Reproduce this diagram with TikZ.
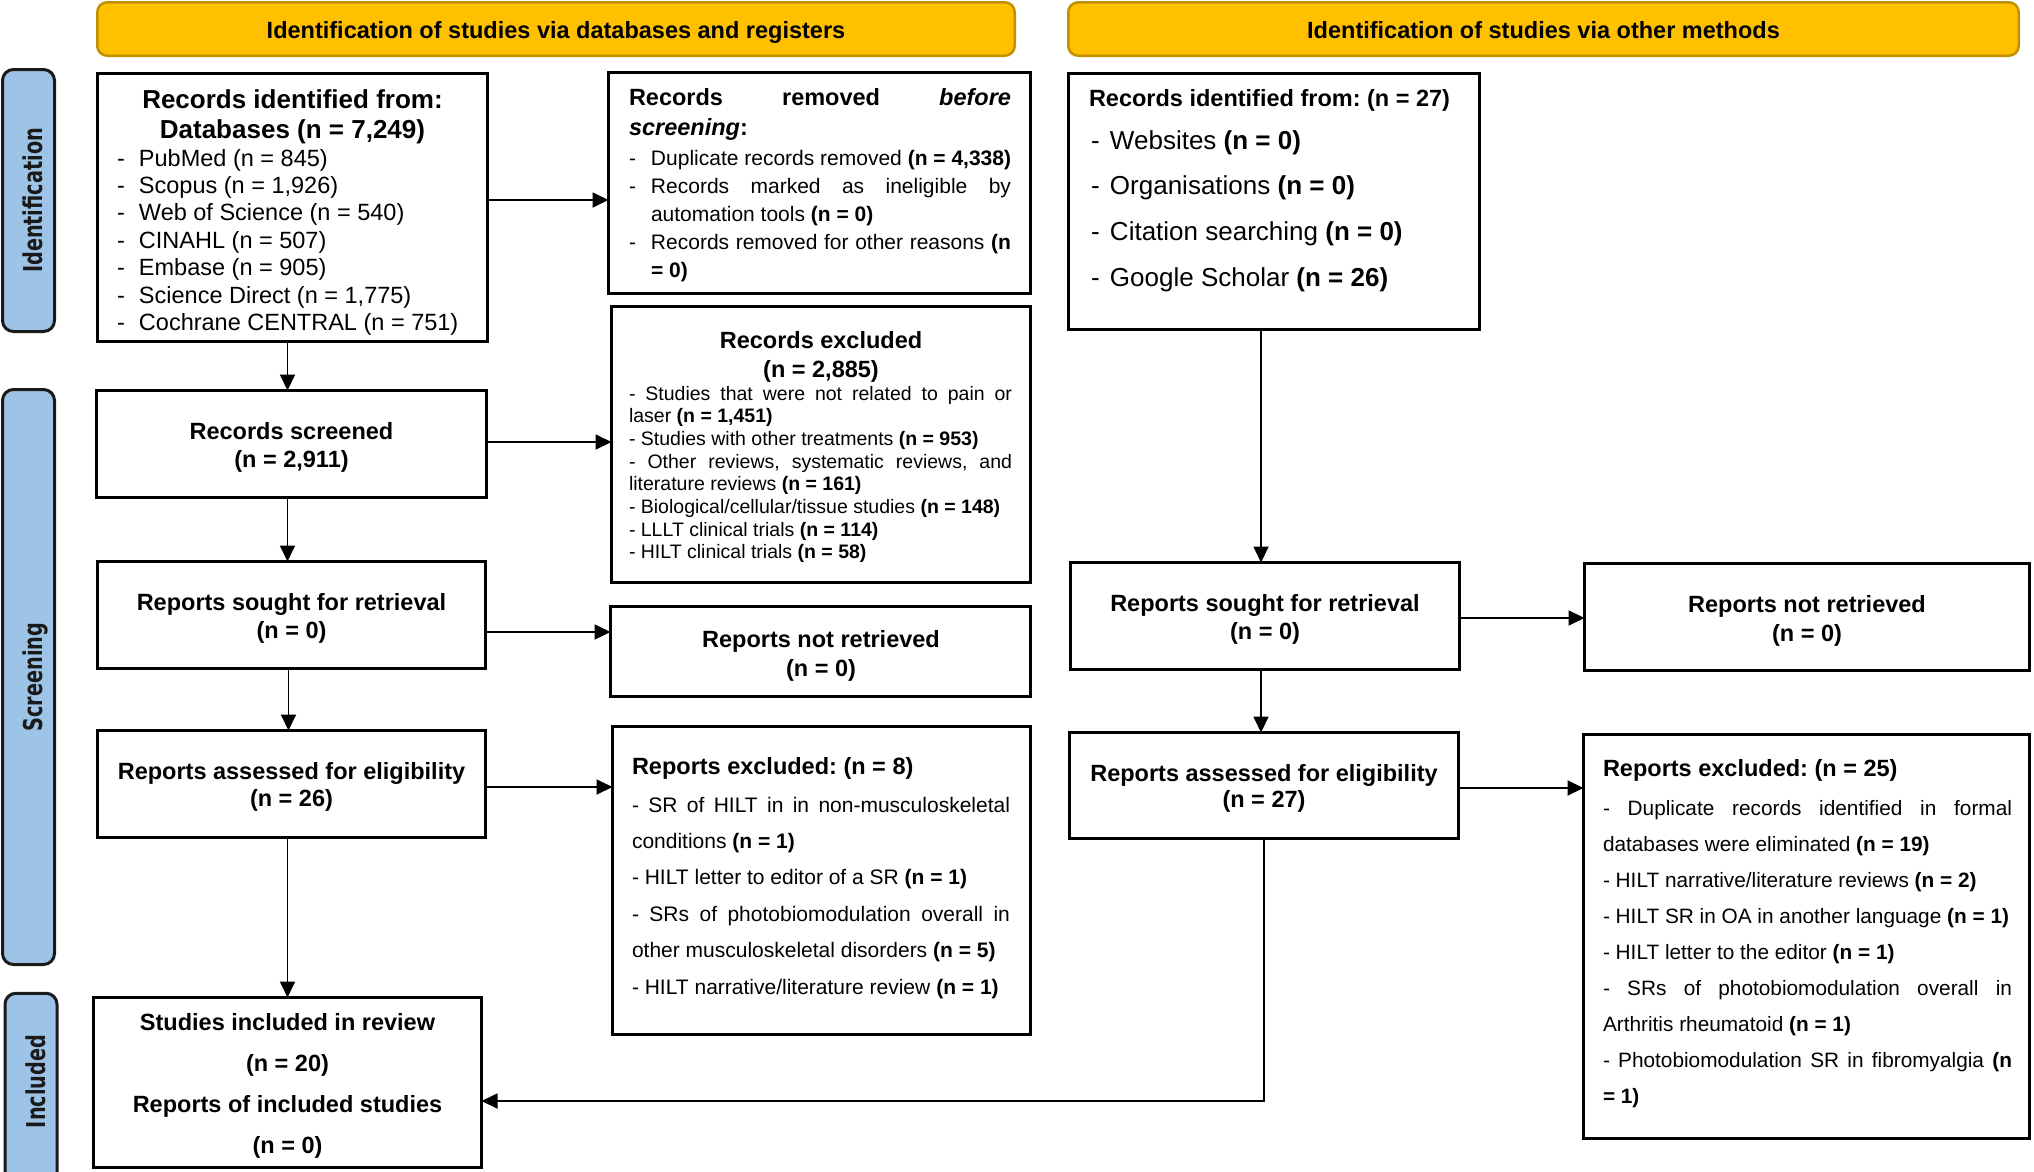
\documentclass[tikz,border=0pt]{standalone}
\usepackage{fontspec}
\usepackage{graphicx}
\setmainfont{Liberation Sans}
\newfontfamily\sidefont{DejaVu Sans}
\usetikzlibrary{arrows.meta}
\definecolor{hdrfill}{HTML}{FFC000}
\definecolor{hdrline}{HTML}{BF9000}
\definecolor{sidefill}{HTML}{9DC3E6}
\definecolor{sideline}{HTML}{1A1A1A}
\newcommand\fs[2]{\fontsize{#1}{#2}\selectfont}
\newcommand\st{\rule{0pt}{22pt}}
\newcommand\idash[1]{\makebox[#1][l]{-}}
\newcommand\bx[5]{\node[box, minimum width={#4-#2-3}, minimum height={#5-#3-3}] (#1) at ({(#2+#4)/2},{(#3+#5)/2}) {};}
\begin{document}
\frenchspacing
\begin{tikzpicture}[x=1pt,y=-1pt,
 box/.style={draw=black, line width=3pt, fill=white, inner sep=0pt, outer sep=0pt},
 hdr/.style={draw=hdrline, fill=hdrfill, line width=2.5pt, rounded corners=10pt, inner sep=0pt, outer sep=0pt},
 side/.style={draw=sideline, fill=sidefill, line width=3pt, rounded corners=11pt, inner sep=0pt, outer sep=0pt},
 sidetxt/.style={rotate=90, anchor=base, inner sep=0pt, font=\sidefont\bfseries\fs{26}{30}, text=sideline},
 txt/.style={inner sep=0pt, outer sep=0pt, anchor=north west, align=left},
 ctxt/.style={inner sep=0pt, outer sep=0pt, anchor=north, align=center, font=\bfseries\fs{23.5}{28}},
 htxt/.style={inner sep=0pt, anchor=base, font=\bfseries\fs{23.5}{28}},
 arr/.style={line width=1.8pt, -{Triangle[length=16pt,width=15pt]}},
]
\useasboundingbox (0,0) rectangle (2034,1171);
\fill[white] (0,0) rectangle (2034,1171);
\begin{scope}
\clip (0,0) rectangle (2034,1171);
% headers
\node[hdr, minimum width=917.5, minimum height=53.5] (hl) at (556,29) {};
\node[hdr, minimum width=950.5, minimum height=53.5] (hr) at (1543.5,29) {};
\node[htxt] (hlt) at (556,38) {Identification of studies via databases and registers};
\node[htxt] (hrt) at (1543.5,38) {Identification of studies via other methods};
% side labels
\node[side, minimum width=52, minimum height=262] (sI) at (28.5,200.5) {};
\node[side, minimum width=52, minimum height=575] (sS) at (28.5,677) {};
\node[side, minimum width=52, minimum height=195] (sN) at (31,1090.75) {};
\node[sidetxt] (sIt) at (42.5,200.5) {\scalebox{0.74}[1]{Identification}};
\node[sidetxt] (sSt) at (42.5,677) {\scalebox{0.74}[1]{Screening}};
\node[sidetxt] (sNt) at (45,1081.5) {\scalebox{0.74}[1]{Included}};
% boxes
\bx{db}{96}{72}{489}{343}
\bx{removed}{607}{71}{1032}{295}
\bx{recexcl}{610}{305}{1032}{584}
\bx{screened}{95}{389}{488}{499}
\bx{soughtL}{96}{560}{487}{670}
\bx{notretL}{609}{605}{1032}{698}
\bx{assessL}{96}{729}{487}{839}
\bx{exclL}{611}{725}{1032}{1036}
\bx{included}{92}{996}{483}{1169}
\bx{dbR}{1067}{72}{1481}{331}
\bx{soughtR}{1069}{561}{1461}{671}
\bx{notretR}{1583}{562}{2031}{672}
\bx{assessR}{1068}{731}{1460}{840}
\bx{exclR}{1582}{733}{2031}{1140}
% texts
\node[ctxt, font=\bfseries\fs{26}{30}] (dbh) at (292.5,86) {\st Records identified from:\\Databases (n = 7,249)};
\node[txt, font=\fs{23.5}{27.4}] (dbi) at (117,144) {\st\idash{22pt}PubMed (n = 845)\\
\idash{22pt}Scopus (n = 1,926)\\
\idash{22pt}Web of Science (n = 540)\\
\idash{22pt}CINAHL (n = 507)\\
\idash{22pt}Embase (n = 905)\\
\idash{22pt}Science Direct (n = 1,775)\\
\idash{22pt}Cochrane CENTRAL (n = 751)};
\node[txt, font=\fs{21}{28}] (remt) at (629,83) {\st\makebox[382pt][s]{\bfseries\fs{23.5}{28}Records removed \itshape before}\\[2pt]
{\bfseries\itshape\fs{23.5}{28}screening}{\bfseries\fs{23.5}{28}:}\\[2pt]
\idash{22pt}Duplicate records removed \textbf{(n = 4,338)}\\
\idash{22pt}\makebox[360pt][s]{Records marked as ineligible by}\\
\hspace*{22pt}automation tools \textbf{(n = 0)}\\
\idash{22pt}\makebox[360pt][s]{Records removed for other reasons \textbf{(n}}\\
\hspace*{22pt}\textbf{= 0)}};
\node[ctxt, font=\bfseries\fs{23.5}{29}] (rexh) at (821,326) {\st Records excluded\\(n = 2,885)};
\node[txt, font=\fs{19.5}{22.7}] (rexi) at (629,378) {\st\makebox[383pt][s]{- Studies that were not related to pain or}\\
laser \textbf{(n = 1,451)}\\
- Studies with other treatments \textbf{(n = 953)}\\
\makebox[383pt][s]{- Other reviews, systematic reviews, and}\\
literature reviews \textbf{(n = 161)}\\
- Biological/cellular/tissue studies \textbf{(n = 148)}\\
- LLLT clinical trials \textbf{(n = 114)}\\
- HILT clinical trials \textbf{(n = 58)}};
\node[ctxt] (scrt) at (291.5,417) {\st Records screened\\(n = 2,911)};
\node[ctxt] (sLt) at (291.5,588) {\st Reports sought for retrieval\\(n = 0)};
\node[ctxt, font=\bfseries\fs{23.5}{29}] (nLt) at (821,625) {\st Reports not retrieved\\(n = 0)};
\node[ctxt, font=\bfseries\fs{23.5}{27}] (aLt) at (291.5,757) {\st Reports assessed for eligibility\\(n = 26)};
\node[txt, font=\bfseries\fs{23.5}{28}] (eLh) at (632,752) {\st Reports excluded: (n = 8)};
\node[txt, font=\fs{21}{36.4}] (eLi) at (632,790) {\st\makebox[378pt][s]{- SR of HILT in in non-musculoskeletal}\\
conditions \textbf{(n = 1)}\\
- HILT letter to editor of a SR \textbf{(n = 1)}\\
\makebox[378pt][s]{- SRs of photobiomodulation overall in}\\
other musculoskeletal disorders \textbf{(n = 5)}\\
- HILT narrative/literature review \textbf{(n = 1)}};
\node[ctxt, font=\bfseries\fs{23.5}{41}] (incT) at (287.5,1008) {\st Studies included in review\\(n = 20)\\Reports of included studies\\(n = 0)};
\node[txt, font=\bfseries\fs{23.5}{28}] (dRh) at (1089,84) {\st Records identified from: (n = 27)};
\node[txt, font=\fs{26}{45.7}] (dRi) at (1091,127) {\st\idash{19pt}Websites \textbf{(n = 0)}\\
\idash{19pt}Organisations \textbf{(n = 0)}\\
\idash{19pt}Citation searching \textbf{(n = 0)}\\
\idash{19pt}Google Scholar \textbf{(n = 26)}};
\node[ctxt] (sRt) at (1265,589) {\st Reports sought for retrieval\\(n = 0)};
\node[ctxt, font=\bfseries\fs{23.5}{29}] (nRt) at (1807,590) {\st Reports not retrieved\\(n = 0)};
\node[ctxt, font=\bfseries\fs{23.5}{26.5}] (aRt) at (1264,759) {\st Reports assessed for eligibility\\(n = 27)};
\node[txt, font=\bfseries\fs{23.5}{28}] (eRh) at (1603,754) {\st Reports excluded: (n = 25)};
\node[txt, font=\fs{20.8}{36}] (eRi) at (1603,793) {\st\makebox[409pt][s]{- Duplicate records identified in formal}\\
databases were eliminated \textbf{(n = 19)}\\
- HILT narrative/literature reviews \textbf{(n = 2)}\\
- HILT SR in OA in another language \textbf{(n = 1)}\\
- HILT letter to the editor \textbf{(n = 1)}\\
\makebox[409pt][s]{- SRs of photobiomodulation overall in}\\
Arthritis rheumatoid \textbf{(n = 1)}\\
\makebox[409pt][s]{- Photobiomodulation SR in fibromyalgia \textbf{(n}}\\
\textbf{= 1)}};
% connectors
\draw[arr] ([yshift=7.5pt]db.east) coordinate (a1) -- (a1 -| removed.west);
\draw[arr] ([xshift=-5pt]db.south) coordinate (a2) -- (a2 |- screened.north);
\draw[arr] ([yshift=2pt]screened.east) coordinate (a3) -- (a3 -| recexcl.west);
\draw[arr] ([xshift=-4pt]screened.south) coordinate (a4) -- (a4 |- soughtL.north);
\draw[arr] ([yshift=-17pt]soughtL.east) coordinate (a5) -- (a5 -| notretL.west);
\draw[arr] ([xshift=-3pt]soughtL.south) coordinate (a6) -- (a6 |- assessL.north);
\draw[arr] ([yshift=-3pt]assessL.east) coordinate (a7) -- (a7 -| exclL.west);
\draw[arr] ([xshift=-4pt]assessL.south) coordinate (a8) -- (a8 |- included.north);
\draw[arr] ([xshift=-13pt]dbR.south) coordinate (b1) -- (b1 |- soughtR.north);
\draw[arr] ([yshift=-2pt]soughtR.east) coordinate (b2) -- (b2 -| notretR.west);
\draw[arr] ([xshift=-4pt]soughtR.south) coordinate (b3) -- (b3 |- assessR.north);
\draw[arr] ([yshift=-2.5pt]assessR.east) coordinate (b4) -- (b4 -| exclR.west);
\draw[arr] (assessR.south) |- ([yshift=-18.5pt]included.east);
\end{scope}
\end{tikzpicture}
\end{document}
